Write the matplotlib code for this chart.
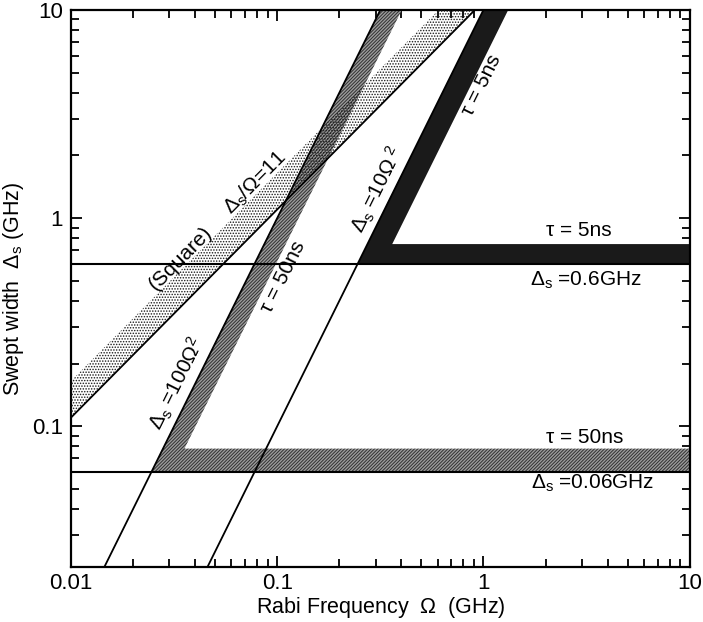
import numpy as np
import matplotlib
matplotlib.use("Agg")
import matplotlib.pyplot as plt
from matplotlib.patches import Polygon

plt.rcParams['font.family'] = ['Liberation Sans', 'DejaVu Sans']
plt.rcParams['mathtext.fontset'] = 'custom'
plt.rcParams['mathtext.rm'] = 'Liberation Sans'
plt.rcParams['mathtext.it'] = 'Liberation Sans:italic'
plt.rcParams['hatch.linewidth'] = 0.7

# axis ranges (GHz)
omega_lim = [0.01, 10]
sweep_lim = [0.021, 10]

# adiabatic lines  Δs = c Ω²  and the inner edge of the τ bands
quad_coef = [100, 10]
band_inner_coef = [62, 5.75]
# lower limit Δs and top of the horizontal part of each band
floor_level = [0.06, 0.6]
floor_top = [0.078, 0.75]
band_face = ['#9c9c9c', '#1a1a1a']
band_hatch = ['//////////', None]

# square pulse line Δs/Ω = 11 and the upper edge of its band
square_ratio = 11
square_upper = 16.5

fig = plt.figure(figsize=(7.03, 6.22), dpi=100)
ax = fig.add_axes([0.101, 0.088, 0.880, 0.896])
ax.set_xscale('log')
ax.set_yscale('log')
ax.set_xlim(omega_lim)
ax.set_ylim(sweep_lim)

x0, x1 = omega_lim
y0, y1 = sweep_lim

# dotted band above the square line
xs_end = y1 / square_ratio
xs_up = y1 / square_upper
sq_poly = [(x0, square_ratio * x0), (xs_end, y1), (xs_up, y1), (x0, square_upper * x0)]

# τ bands (L shaped)
for c, k, lo, hi, fc, h in zip(quad_coef, band_inner_coef, floor_level, floor_top, band_face, band_hatch):
    verts = [(np.sqrt(y1 / c), y1), (np.sqrt(lo / c), lo), (x1, lo), (x1, hi),
             (np.sqrt(hi / k), hi), (np.sqrt(y1 / k), y1)]
    ax.add_patch(Polygon(verts, closed=True, facecolor=fc, edgecolor='#303030' if h else 'none',
                         hatch=h, linewidth=0, zorder=2))

ax.add_patch(Polygon(sq_poly, closed=True, facecolor='none', edgecolor='#1a1a1a',
                     hatch='......', linewidth=0, zorder=3))

# lines
for c in quad_coef:
    ax.plot([np.sqrt(y0 / c), np.sqrt(y1 / c)], [y0, y1], color='k', lw=1.3, zorder=4)
ax.plot([x0, xs_end], [square_ratio * x0, y1], color='k', lw=1.3, zorder=4)
for lv in floor_level:
    ax.plot([x0, x1], [lv, lv], color='k', lw=1.5, zorder=4)


def angle(slope):
    p = ax.transData.transform([(0.1, 0.1), (1, 0.1 * 10 ** slope)])
    d = p[1] - p[0]
    return np.degrees(np.arctan2(d[1], d[0]))


a1 = angle(1)
a2 = angle(2)
fs = 15
ax.text(0.0342, 0.64, '(Square)', rotation=a1, ha='center', va='center', fontsize=fs, zorder=5)
ax.text(0.078, 1.47, r'$\Delta_\mathrm{s}$/$\Omega$=11', rotation=a1, ha='center', va='center', fontsize=fs, zorder=5)
ax.text(0.107, 0.52, 'τ = 50ns', rotation=a2, ha='center', va='center', fontsize=fs, zorder=5)
ax.text(0.0327, 0.161, r'$\Delta_\mathrm{s}$ =100$\Omega^2$', rotation=a2, ha='center', va='center', fontsize=fs, zorder=5)
ax.text(0.306, 1.36, r'$\Delta_\mathrm{s}$ =10$\Omega^{\ 2}$', rotation=a2, ha='center', va='center', fontsize=fs, zorder=5)
ax.text(0.978, 4.36, 'τ = 5ns', rotation=a2, ha='center', va='center', fontsize=fs, zorder=5)
ax.text(2.89, 0.875, 'τ = 5ns', ha='center', va='center', fontsize=fs, zorder=5)
ax.text(3.13, 0.503, r'$\Delta_\mathrm{s}$ =0.6GHz', ha='center', va='center', fontsize=fs, zorder=5)
ax.text(3.09, 0.0885, 'τ = 50ns', ha='center', va='center', fontsize=fs, zorder=5)
ax.text(3.38, 0.0532, r'$\Delta_\mathrm{s}$ =0.06GHz', ha='center', va='center', fontsize=fs, zorder=5)

ax.set_xticks([0.01, 0.1, 1, 10])
ax.set_xticklabels(['0.01', '0.1', '1', '10'])
ax.set_yticks([0.1, 1, 10])
ax.set_yticklabels(['0.1', '1', '10'])
ax.tick_params(which='both', direction='in', top=True, right=True, labelsize=16, width=1.3)
ax.tick_params(which='major', length=8, pad=6)
ax.tick_params(axis='x', which='major', pad=4)
ax.tick_params(which='minor', length=6)
for s in ax.spines.values():
    s.set_linewidth(1.6)

ax.set_xlabel(r'Rabi Frequency  $\Omega$  (GHz)', fontsize=15.5, labelpad=1)
ax.set_ylabel(r'Swept width  $\Delta_\mathrm{s}$ (GHz)', fontsize=15.5, labelpad=4)

fig.savefig('out.png', dpi=100)
